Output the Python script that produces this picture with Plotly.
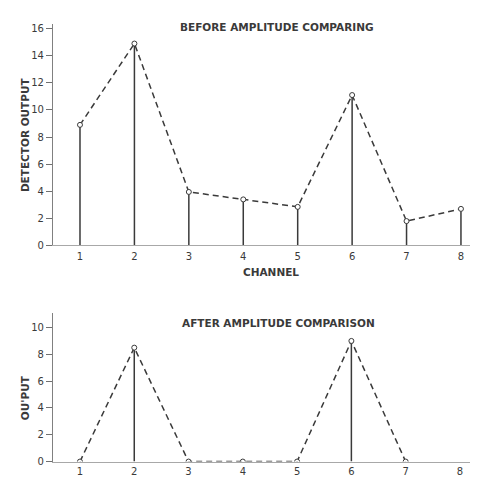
import plotly.graph_objects as go

channels = [1, 2, 3, 4, 5, 6, 7, 8]
before_values = [8.9, 14.9, 3.95, 3.4, 2.85, 11.1, 1.8, 2.7]
after_values = [0, 8.5, 0, 0, 0, 9.0, 0, 0]
after_marked = [True, True, True, True, True, True, True, False]
before_yticks = [0, 2, 4, 6, 8, 10, 12, 14, 16]
after_yticks = [0, 2, 4, 6, 8, 10]

W, H = 478, 477
INK = "#3a3a3a"
FONT = "DejaVu Sans"

def stems(xs, ys):
    sx, sy = [], []
    for x, y in zip(xs, ys):
        if y > 0:
            sx += [x, x, None]
            sy += [0, y, None]
    return sx, sy

fig = go.Figure()

# top panel
sx, sy = stems(channels, before_values)
fig.add_trace(go.Scatter(x=sx, y=sy, mode="lines", line=dict(color=INK, width=1.5),
                         xaxis="x", yaxis="y", hoverinfo="skip"))
fig.add_trace(go.Scatter(x=channels, y=before_values, mode="lines+markers",
                         line=dict(color=INK, width=1.5, dash="6px,4px"),
                         marker=dict(symbol="circle", size=5, color="white",
                                     line=dict(color=INK, width=1)),
                         xaxis="x", yaxis="y"))

# bottom panel
sx2, sy2 = stems(channels, after_values)
fig.add_trace(go.Scatter(x=sx2, y=sy2, mode="lines", line=dict(color=INK, width=1.5),
                         xaxis="x2", yaxis="y2", hoverinfo="skip"))
fig.add_trace(go.Scatter(x=[c for c, m in zip(channels, after_marked) if m],
                         y=[v for v, m in zip(after_values, after_marked) if m],
                         mode="lines+markers",
                         line=dict(color=INK, width=1.5, dash="6px,4px"),
                         marker=dict(symbol="circle", size=5, color="white",
                                     line=dict(color=INK, width=1)),
                         xaxis="x2", yaxis="y2"))

def px_x(p):
    return p / W

def px_y(p):
    return 1 - p / H

def xaxis_style(ticklen):
    return dict(tickmode="array", tickvals=channels, ticktext=[str(c) for c in channels],
                showgrid=False, zeroline=False, showline=True, linecolor="#a8a8a8", linewidth=1,
                ticks="outside", ticklen=ticklen, tickcolor="rgba(0,0,0,0)",
                tickfont=dict(family=FONT, size=10, color=INK))

ycommon = dict(showgrid=False, zeroline=False, showline=True, linecolor="#808080", linewidth=1.2,
               ticks="outside", ticklen=6, tickcolor="#707070", tickwidth=1,
               tickfont=dict(family=FONT, size=10, color=INK))

title_font = dict(family=FONT, size=10.5, color=INK, weight="bold")

fig.update_layout(
    width=W, height=H, margin=dict(l=0, r=0, t=0, b=0),
    paper_bgcolor="white", plot_bgcolor="white", showlegend=False,
    xaxis=dict(domain=[px_x(45), 1], range=[0.504, 8.46], anchor="y", **xaxis_style(2)),
    yaxis=dict(domain=[px_y(240), px_y(15)], range=[0, 16.36], anchor="x",
               tickvals=before_yticks, **ycommon),
    xaxis2=dict(domain=[px_x(45), 1], range=[0.503, 8.48], anchor="y2", **xaxis_style(0)),
    yaxis2=dict(domain=[px_y(459.3), px_y(309)], range=[0, 11.05], anchor="x2",
                tickvals=after_yticks, **ycommon),
    annotations=[
        dict(text="BEFORE AMPLITUDE COMPARING", x=px_x(269), y=px_y(18), xref="paper", yref="paper",
             showarrow=False, font=title_font, xanchor="center", yanchor="middle"),
        dict(text="CHANNEL", x=px_x(263), y=px_y(267), xref="paper", yref="paper",
             showarrow=False, font=title_font, xanchor="center", yanchor="middle"),
        dict(text="DETECTOR OUTPUT", x=px_x(17), y=px_y(128), xref="paper", yref="paper", textangle=-90,
             showarrow=False, font=title_font, xanchor="center", yanchor="middle"),
        dict(text="AFTER AMPLITUDE COMPARISON", x=px_x(270), y=px_y(319), xref="paper", yref="paper",
             showarrow=False, font=title_font, xanchor="center", yanchor="middle"),
        dict(text="OU'PUT", x=px_x(17), y=px_y(395), xref="paper", yref="paper", textangle=-90,
             showarrow=False, font=title_font, xanchor="center", yanchor="middle"),
    ],
)

fig.write_html("out.html")
